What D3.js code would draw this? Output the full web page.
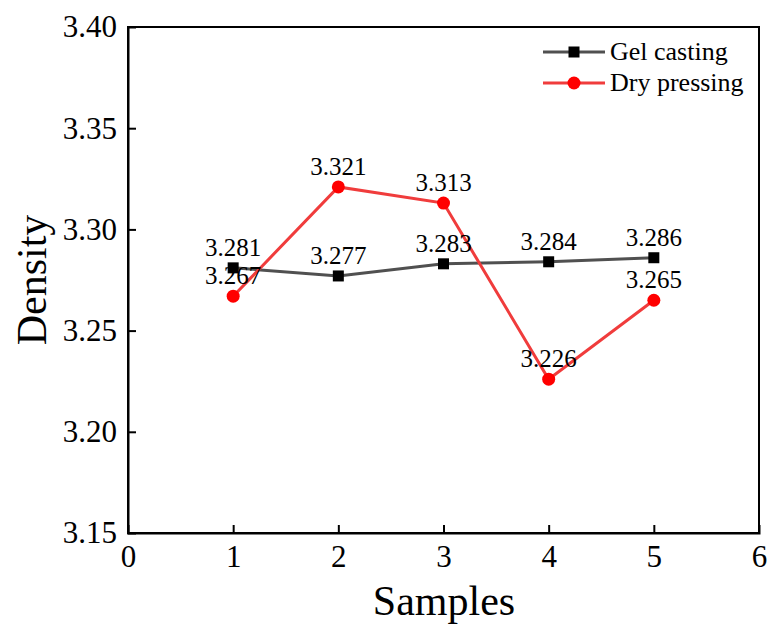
<!DOCTYPE html>
<html><head><meta charset="utf-8">
<script src="https://cdn.jsdelivr.net/npm/d3@7"></script>
<style>body{margin:0;background:#fff}svg{display:block}text{font-family:"Liberation Serif","Times New Roman",serif}</style>
</head><body><svg id="c" width="768" height="624"></svg>
<script>
const samples = [1, 2, 3, 4, 5];
const gelCasting = [3.281, 3.277, 3.283, 3.284, 3.286];
const dryPressing = [3.267, 3.321, 3.313, 3.226, 3.265];
const xTicks = [0, 1, 2, 3, 4, 5, 6];
const yTicks = [3.15, 3.20, 3.25, 3.30, 3.35, 3.40];

const svg = d3.select("#c");
const L = 128, R = 759, T = 27, B = 533;
const x = d3.scaleLinear().domain([0, 6]).range([L, R]);
const y = d3.scaleLinear().domain([3.15, 3.40]).range([B, T]);

// frame
svg.append("rect").attr("x", L).attr("y", T).attr("width", R - L).attr("height", B - T)
  .attr("fill", "none").attr("stroke", "#000").attr("stroke-width", 2);

const xAxis = svg.append("g").attr("transform", `translate(0,${B})`)
  .call(d3.axisBottom(x).tickValues(xTicks).tickSize(-8).tickPadding(12).tickFormat(d3.format("d")));
const yAxis = svg.append("g").attr("transform", `translate(${L},0)`)
  .call(d3.axisLeft(y).tickValues(yTicks).tickSize(-8).tickPadding(11).tickFormat(d3.format(".2f")));
[xAxis, yAxis].forEach(a => {
  a.select(".domain").attr("stroke-width", 2);
  a.selectAll(".tick line").attr("stroke-width", 2);
  a.selectAll(".tick text").attr("font-size", 31).attr("fill", "#000")
    .style("font-family", '"Liberation Serif", serif');
});
xAxis.selectAll(".tick text").attr("dy", "0.71em");
xAxis.selectAll(".tick").filter(d => d === 0 || d === 6).select("line").remove();
yAxis.selectAll(".tick").filter(d => d === 3.15 || d === 3.40).select("line").remove();

svg.append("text").attr("x", 444).attr("y", 615).attr("text-anchor", "middle")
  .attr("font-size", 42).text("Samples");
svg.append("text").attr("transform", `translate(46,280) rotate(-90)`)
  .attr("text-anchor", "middle").attr("font-size", 42).text("Density");

const line = d3.line().x((d, i) => x(samples[i])).y(d => y(d));

svg.append("path").datum(gelCasting).attr("d", line).attr("fill", "none")
  .attr("stroke", "#505050").attr("stroke-width", 3);
svg.append("path").datum(dryPressing).attr("d", line).attr("fill", "none")
  .attr("stroke", "#f03c3c").attr("stroke-width", 3);

svg.selectAll(".sq").data(gelCasting).enter().append("rect")
  .attr("x", (d, i) => x(samples[i]) - 5.5).attr("y", d => y(d) - 5.5)
  .attr("width", 11).attr("height", 11).attr("fill", "#000");
svg.selectAll(".ci").data(dryPressing).enter().append("circle")
  .attr("cx", (d, i) => x(samples[i])).attr("cy", d => y(d)).attr("r", 6.5).attr("fill", "#ff0000");

const lab = (arr) => svg.selectAll(null).data(arr).enter().append("text")
  .attr("x", (d, i) => x(samples[i])).attr("y", d => y(d) - 12)
  .attr("text-anchor", "middle").attr("font-size", 25).attr("fill", "#000")
  .text(d => d3.format(".3f")(d));
lab(gelCasting);
lab(dryPressing);

// legend
const lg = [{name: "Gel casting", c: "#505050", m: "sq", yy: 52},
            {name: "Dry pressing", c: "#f03c3c", m: "ci", yy: 83}];
lg.forEach(e => {
  svg.append("line").attr("x1", 543).attr("x2", 605).attr("y1", e.yy).attr("y2", e.yy)
    .attr("stroke", e.c).attr("stroke-width", 3);
  if (e.m === "sq") svg.append("rect").attr("x", 574 - 5.5).attr("y", e.yy - 5.5).attr("width", 11).attr("height", 11).attr("fill", "#000");
  else svg.append("circle").attr("cx", 574).attr("cy", e.yy).attr("r", 6.5).attr("fill", "#ff0000");
  svg.append("text").attr("x", 610).attr("y", e.yy + 8).attr("font-size", 26).text(e.name);
});
</script></body></html>
